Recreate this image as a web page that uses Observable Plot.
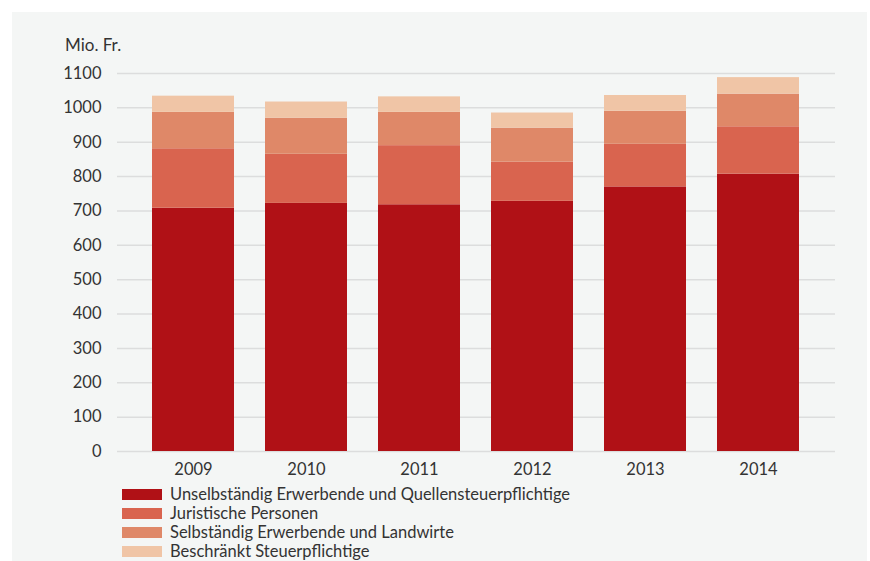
<!DOCTYPE html>
<html>
<head>
<meta charset="utf-8">
<script src="https://cdn.jsdelivr.net/npm/d3@7"></script>
<script src="https://cdn.jsdelivr.net/npm/@observablehq/plot@0.6"></script>
<style>
  html, body { margin: 0; padding: 0; background: #ffffff; width: 870px; height: 561px; overflow: hidden; }
  #panel { position: absolute; left: 12px; top: 12px; width: 855px; height: 549px; background: #f4f6f5; }
  #chart { position: absolute; left: 0; top: 0; }
  #unit { position: absolute; left: 65px; top: 34px; font: 17px Lato, sans-serif; color: #333; }
  #legend { position: absolute; left: 122px; top: 485px; font: 16.5px/19px Lato, sans-serif; color: #333; }
  .row { display: flex; align-items: center; height: 19px; line-height: 19px; }
  .sw { width: 40px; height: 11px; margin-right: 8px; flex: none; }
</style>
</head>
<body>
<div id="panel"></div>
<div id="unit">Mio. Fr.</div>
<div id="chart"></div>
<div id="legend"></div>
<script>
const years = ["2009", "2010", "2011", "2012", "2013", "2014"];
const seriesNames = [
  "Unselbständig Erwerbende und Quellensteuerpflichtige",
  "Juristische Personen",
  "Selbständig Erwerbende und Landwirte",
  "Beschränkt Steuerpflichtige"
];
const unselbstaendig = [708, 722, 718, 728, 770, 807];
const juristisch = [173, 143, 172, 114, 124, 138];
const selbstaendig = [106, 105, 97, 99, 96, 95];
const beschraenkt = [47, 47, 45, 44, 46, 48];
const colors = ["#b01116", "#d9644f", "#df8868", "#f0c5a6"];
const yTicks = [0, 100, 200, 300, 400, 500, 600, 700, 800, 900, 1000, 1100];

const seriesValues = [unselbstaendig, juristisch, selbstaendig, beschraenkt];
const data = [];
years.forEach((yr, i) => {
  seriesNames.forEach((s, j) => {
    data.push({year: yr, series: s, value: seriesValues[j][i]});
  });
});

const plot = Plot.plot({
  width: 870,
  height: 480,
  marginTop: 73,
  marginBottom: 29,
  marginLeft: 117,
  marginRight: 35,
  style: {background: "transparent", fontFamily: "Lato, sans-serif", fontSize: "16px", color: "#333"},
  x: {domain: years, paddingInner: 0.27, paddingOuter: 0.298, label: null},
  y: {domain: [0, 1100], label: null},
  color: {domain: seriesNames, range: colors},
  marks: [
    Plot.ruleY(yTicks, {stroke: "#dcdddd", strokeWidth: 1.5}),
    Plot.barY(data, Plot.stackY({x: "year", y: "value", fill: "series", order: seriesNames})),
    Plot.axisY({ticks: yTicks, tickFormat: d3.format("d"), tickSize: 0, tickPadding: 16, fontSize: 16.5, fill: "#333"}),
    Plot.axisX({tickSize: 0, tickPadding: 12, fontSize: 16.5, fill: "#333"})
  ]
});
document.getElementById("chart").appendChild(plot);

const legend = document.getElementById("legend");
seriesNames.forEach((s, j) => {
  const row = document.createElement("div");
  row.className = "row";
  const sw = document.createElement("div");
  sw.className = "sw";
  sw.style.background = colors[j];
  const t = document.createElement("span");
  t.textContent = s;
  row.appendChild(sw);
  row.appendChild(t);
  legend.appendChild(row);
});
</script>
</body>
</html>
